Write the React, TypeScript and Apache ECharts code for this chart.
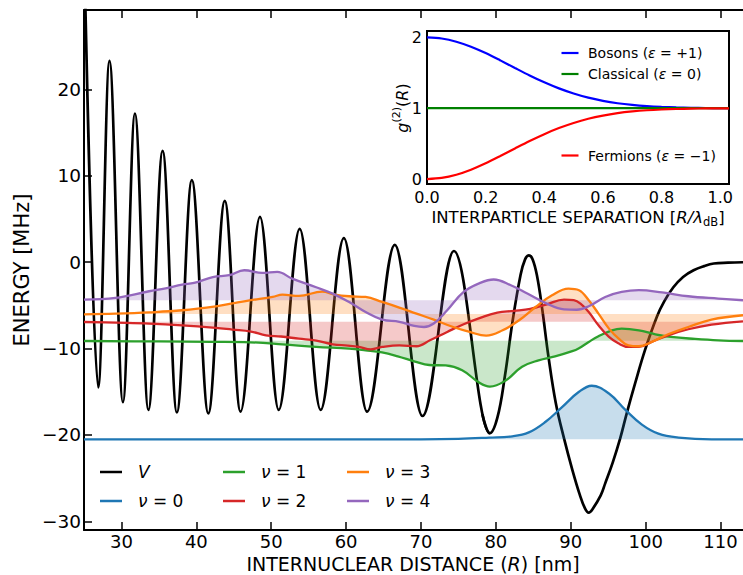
import React, { useEffect, useRef } from 'react';
import * as echarts from 'echarts';

const FONT = 'DejaVu Sans';

// ---------- main panel data ----------
// potential V: oscillating part (extrema; last value repeats the final trough)
const V_OSC_X = [25.1, 26.9, 28.4, 30.2, 31.8, 33.6, 35.5, 37.4, 39.4, 41.6, 43.8, 45.9, 48.5, 51.0, 53.8, 56.6, 59.7, 62.8, 66.5, 70.2, 74.4, 79.2, 79.24];
const V_OSC_Y = [33, -14.5, 23.3, -16.2, 17.2, -17.1, 12.9, -17.4, 9.5, -17.5, 7.1, -17.3, 5.25, -17.1, 3.86, -17.1, 2.8, -17.3, 2.0, -17.8, 1.3, -19.8, -19.8];
// potential V: last barrier, deep well and plateau
const V_TAIL_X = [78.2, 79.2, 80.2, 81.2, 82.2, 83.3, 83.9, 84.4, 84.9, 85.5, 86.2, 87.0, 88.0, 89.1, 90.2, 91.2, 91.9, 92.4, 92.9, 94.0, 94.6, 95.6, 96.6, 97.5, 98.6, 99.9, 101.5, 102.5, 103.7, 105.0, 106.4, 107.8, 109.1, 111.0, 113.0];
const V_TAIL_Y = [-17.6, -19.8, -18.0, -13.2, -7.0, -1.45, 0.33, 0.8, 0.35, -1.6, -5.5, -10.8, -16.3, -20.4, -24.0, -26.9, -28.5, -29.0, -28.6, -27.0, -25.6, -23.2, -20.4, -17.4, -14.0, -10.2, -6.3, -4.5, -2.9, -1.7, -0.93, -0.45, -0.15, -0.05, 0.0];

const BASELINES = [-20.5, -9.1, -6.9, -6.0, -4.4];

const NU0_X = [25, 60, 70, 75, 79.1, 82.2, 84.4, 86.6, 88.8, 91.1, 92.8, 95.1, 97.3, 99.5, 101.7, 104.4, 108.8, 113];
const NU0_Y = [-20.5, -20.5, -20.5, -20.45, -20.3, -20.15, -19.7, -18.5, -16.8, -15.0, -14.3, -15.2, -17.1, -18.8, -19.85, -20.3, -20.5, -20.5];

const NU1_X = [25, 35, 42, 47.1, 51.5, 56.0, 60.4, 62.6, 64.8, 66.9, 69.2, 71.1, 73.3, 75.5, 77.7, 79.2, 81.3, 83.5, 85.7, 87.9, 90.2, 91.1, 92.4, 93.7, 95.5, 96.8, 99.1, 101.3, 103.4, 106.6, 109.7, 113];
const NU1_Y = [-9.12, -9.17, -9.22, -9.27, -9.5, -9.8, -10.0, -10.2, -10.45, -10.9, -11.5, -11.9, -11.95, -12.5, -13.9, -14.4, -13.7, -12.1, -11.36, -10.9, -10.3, -9.95, -9.23, -8.57, -7.88, -7.69, -7.88, -8.34, -8.65, -8.88, -9.04, -9.12];

const NU2_X = [25, 29.2, 33.7, 38.1, 42.6, 44.8, 47.3, 49.3, 51.3, 53.7, 56.0, 58.2, 60.2, 61.7, 63.3, 64.8, 67.1, 69.4, 71.2, 73.5, 75.7, 78.0, 80.2, 82.4, 84.6, 86.8, 89.1, 90.4, 91.3, 92.4, 93.7, 95.1, 96.4, 97.7, 99.1, 100.8, 103.0, 105.7, 108.8, 113];
const NU2_Y = [-6.92, -7.0, -7.1, -7.3, -7.6, -7.8, -8.03, -8.46, -8.6, -8.85, -9.07, -9.5, -9.65, -9.8, -10.08, -9.81, -9.62, -9.73, -9.04, -8.07, -7.18, -6.41, -5.83, -5.64, -5.41, -4.87, -4.33, -4.4, -4.8, -5.76, -7.3, -8.65, -9.42, -9.81, -9.81, -9.23, -8.46, -7.76, -7.22, -6.84];

const NU3_X = [25, 29.2, 33.7, 38.1, 42.6, 45.2, 47.1, 50.2, 51.5, 53.7, 56.8, 58.5, 60.4, 62.6, 64.8, 67.1, 69.4, 71.7, 74.3, 76.5, 78.7, 80.9, 83.1, 85.3, 87.5, 89.7, 91.1, 92.4, 93.7, 95.1, 96.4, 97.7, 99.1, 100.8, 103.0, 105.7, 108.8, 113];
const NU3_Y = [-6.03, -5.95, -5.8, -5.56, -5.1, -4.71, -4.42, -4.02, -3.75, -3.9, -3.4, -3.75, -3.94, -4.02, -4.6, -5.25, -5.95, -6.64, -7.5, -8.07, -8.5, -7.88, -6.72, -5.18, -3.82, -3.05, -3.24, -4.4, -5.95, -7.69, -8.85, -9.62, -9.73, -9.23, -8.34, -7.5, -6.64, -6.14];

const NU4_X = [25, 29.2, 33.7, 35.9, 38.1, 39.7, 42.2, 44.4, 46.4, 48.8, 50.8, 52.8, 56.0, 58.2, 60.4, 62.6, 64.8, 67.1, 69.1, 70.4, 71.7, 73.5, 75.7, 78.0, 79.7, 82.0, 84.2, 86.8, 89.1, 90.8, 92.4, 94.6, 96.8, 99.1, 102.2, 105.7, 109.7, 113];
const NU4_Y = [-4.33, -4.13, -3.36, -3.02, -2.59, -2.4, -1.72, -1.5, -0.93, -1.24, -1.12, -1.9, -2.9, -3.63, -4.6, -5.76, -6.64, -6.9, -7.38, -7.5, -7.1, -5.56, -3.44, -2.36, -2.0, -2.67, -3.63, -4.79, -5.45, -5.5, -5.1, -4.02, -3.44, -3.24, -3.5, -3.94, -4.21, -4.4];

const NU_COLORS = ['#1f77b4', '#2ca02c', '#d62728', '#ff7f0e', '#9467bd'];

const MAIN_X_TICKS = [30, 40, 50, 60, 70, 80, 90, 100, 110];
const MAIN_Y_TICKS = [-30, -20, -10, 0, 10, 20];

// ---------- inset data ----------
const G_X = [0, 0.05, 0.1, 0.15, 0.2, 0.25, 0.3, 0.35, 0.4, 0.45, 0.5, 0.55, 0.6, 0.65, 0.7, 0.75, 0.8, 0.85, 0.9, 0.95, 1.0, 1.03];
const BOSONS = [2, 1.984, 1.939, 1.868, 1.778, 1.675, 1.568, 1.463, 1.366, 1.28, 1.208, 1.149, 1.104, 1.07, 1.046, 1.029, 1.018, 1.011, 1.006, 1.003, 1.002, 1.001];
const CLASSICAL = [1, 1, 1, 1, 1, 1, 1, 1, 1, 1, 1, 1, 1, 1, 1, 1, 1, 1, 1, 1, 1, 1];
const FERMIONS = [0, 0.016, 0.061, 0.132, 0.222, 0.325, 0.432, 0.537, 0.634, 0.72, 0.792, 0.851, 0.896, 0.93, 0.954, 0.971, 0.982, 0.989, 0.994, 0.997, 0.998, 0.999];
const INSET_X_TICKS = [0, 0.2, 0.4, 0.6, 0.8, 1.0];
const INSET_Y_TICKS = [0, 1, 2];

const zip = (xs: number[], ys: number[]) => xs.map((x, i) => [x, ys[i]]);
const minus = (v: number) => (v < 0 ? '\u2212' + Math.abs(v) : String(v));

function buildOption() {
  const tickStyle = { color: '#000', width: 1.5 };
  const lineBlack = { color: '#000', width: 2 };

  const xAxis: any[] = [
    {
      gridIndex: 0, type: 'value', min: 25, max: 113, position: 'bottom',
      axisLine: { show: true, onZero: false, lineStyle: lineBlack },
      axisTick: { show: true, inside: true, length: 8, lineStyle: tickStyle, customValues: MAIN_X_TICKS },
      axisLabel: { show: true, customValues: MAIN_X_TICKS, fontFamily: FONT, fontSize: 18, color: '#000', margin: 2 },
      splitLine: { show: false },
    },
    {
      gridIndex: 0, type: 'value', min: 25, max: 113, position: 'top',
      axisLine: { show: true, onZero: false, lineStyle: lineBlack },
      axisTick: { show: true, inside: true, length: 8, lineStyle: tickStyle, customValues: MAIN_X_TICKS },
      axisLabel: { show: false },
      splitLine: { show: false },
    },
    {
      gridIndex: 1, type: 'value', min: 0, max: 1.03, position: 'bottom',
      axisLine: { show: false, onZero: false },
      axisTick: { show: true, inside: true, length: 5, lineStyle: tickStyle, customValues: INSET_X_TICKS },
      axisLabel: { show: true, customValues: INSET_X_TICKS, formatter: (v: number) => v.toFixed(1), fontFamily: FONT, fontSize: 16, color: '#000', margin: 5 },
      splitLine: { show: false },
    },
    {
      gridIndex: 1, type: 'value', min: 0, max: 1.03, position: 'top',
      axisLine: { show: false, onZero: false },
      axisTick: { show: true, inside: true, length: 5, lineStyle: tickStyle, customValues: INSET_X_TICKS },
      axisLabel: { show: false },
      splitLine: { show: false },
    },
  ];

  const yAxis: any[] = [
    {
      gridIndex: 0, type: 'value', min: -31, max: 29.2, position: 'left',
      axisLine: { show: true, onZero: false, lineStyle: lineBlack },
      axisTick: { show: true, inside: true, length: 8, lineStyle: tickStyle, customValues: MAIN_Y_TICKS },
      axisLabel: { show: true, customValues: MAIN_Y_TICKS, formatter: minus, fontFamily: FONT, fontSize: 18.5, color: '#000', margin: 3 },
      splitLine: { show: false },
    },
    {
      gridIndex: 1, type: 'value', min: -0.07, max: 2.09, position: 'left',
      axisLine: { show: false, onZero: false },
      axisTick: { show: true, inside: true, length: 5, lineStyle: tickStyle, customValues: INSET_Y_TICKS },
      axisLabel: { show: true, customValues: INSET_Y_TICKS, fontFamily: FONT, fontSize: 16, color: '#000', margin: 5 },
      splitLine: { show: false },
    },
    {
      gridIndex: 1, type: 'value', min: -0.07, max: 2.09, position: 'right',
      axisLine: { show: false, onZero: false },
      axisTick: { show: true, inside: true, length: 5, lineStyle: tickStyle, customValues: INSET_Y_TICKS },
      axisLabel: { show: false },
      splitLine: { show: false },
    },
  ];

  const nuData = [zip(NU0_X, NU0_Y), zip(NU1_X, NU1_Y), zip(NU2_X, NU2_Y), zip(NU3_X, NU3_Y), zip(NU4_X, NU4_Y)];

  const series: any[] = [
    {
      name: 'V', type: 'line', xAxisIndex: 0, yAxisIndex: 0, data: zip(V_OSC_X, V_OSC_Y),
      showSymbol: false, smooth: 0.36, smoothMonotone: 'x', lineStyle: { color: '#000', width: 2.7 }, z: 1,
    },
    {
      name: 'V tail', type: 'line', xAxisIndex: 0, yAxisIndex: 0, data: zip(V_TAIL_X, V_TAIL_Y),
      showSymbol: false, smooth: 0.4, lineStyle: { color: '#000', width: 2.7 }, z: 1,
    },
    ...nuData.map((d, i) => ({
      name: 'nu' + i, type: 'line', xAxisIndex: 0, yAxisIndex: 0, data: d,
      showSymbol: false, smooth: 0.4,
      lineStyle: { color: NU_COLORS[i], width: 2.3 },
      areaStyle: { origin: BASELINES[i], color: NU_COLORS[i], opacity: 0.25 },
      z: 2,
    })),
    {
      name: 'Bosons', type: 'line', xAxisIndex: 2, yAxisIndex: 1, data: zip(G_X, BOSONS),
      showSymbol: false, smooth: 0.3, lineStyle: { color: '#0000ff', width: 2.2 }, z: 5,
    },
    {
      name: 'Classical', type: 'line', xAxisIndex: 2, yAxisIndex: 1, data: zip(G_X, CLASSICAL),
      showSymbol: false, lineStyle: { color: '#008000', width: 2.2 }, z: 5,
    },
    {
      name: 'Fermions', type: 'line', xAxisIndex: 2, yAxisIndex: 1, data: zip(G_X, FERMIONS),
      showSymbol: false, smooth: 0.3, lineStyle: { color: '#ff0000', width: 2.2 }, z: 5,
    },
  ];

  const legFs = 17;
  const legRich = {
    i: { fontFamily: FONT, fontSize: legFs, fontStyle: 'italic', fill: '#000' },
    n: { fontFamily: FONT, fontSize: legFs, fill: '#000' },
  };
  const legendItems = [
    { label: '{i|V}', color: '#000', lx: 100, ly: 472 },
    { label: '{i|\u03bd}{n| = 0}', color: NU_COLORS[0], lx: 100, ly: 501 },
    { label: '{i|\u03bd}{n| = 1}', color: NU_COLORS[1], lx: 223, ly: 472 },
    { label: '{i|\u03bd}{n| = 2}', color: NU_COLORS[2], lx: 223, ly: 501 },
    { label: '{i|\u03bd}{n| = 3}', color: NU_COLORS[3], lx: 347, ly: 472 },
    { label: '{i|\u03bd}{n| = 4}', color: NU_COLORS[4], lx: 347, ly: 501 },
  ];
  const insetFs = 14;
  const insetRich = {
    i: { fontFamily: FONT, fontSize: insetFs, fontStyle: 'italic', fill: '#000' },
    n: { fontFamily: FONT, fontSize: insetFs, fill: '#000' },
  };
  const insetLegend = [
    { label: '{n|Bosons (}{i|\u03b5}{n| = +1)}', color: '#0000ff', ly: 53 },
    { label: '{n|Classical (}{i|\u03b5}{n| = 0)}', color: '#008000', ly: 74 },
    { label: '{n|Fermions (}{i|\u03b5}{n| = \u22121)}', color: '#ff0000', ly: 155.5 },
  ];

  const elements: any[] = [];
  legendItems.forEach((it) => {
    elements.push({ type: 'line', shape: { x1: it.lx, y1: it.ly, x2: it.lx + 22, y2: it.ly }, style: { stroke: it.color, lineWidth: 2.5 }, z: 10 });
    elements.push({ type: 'text', x: it.lx + 38, y: it.ly, style: { text: it.label, rich: legRich, verticalAlign: 'middle', align: 'left', fill: '#000' }, z: 10 });
  });
  insetLegend.forEach((it) => {
    elements.push({ type: 'line', shape: { x1: 561.5, y1: it.ly, x2: 578.5, y2: it.ly }, style: { stroke: it.color, lineWidth: 2.2 }, z: 10 });
    elements.push({ type: 'text', x: 588, y: it.ly, style: { text: it.label, rich: insetRich, verticalAlign: 'middle', align: 'left', fill: '#000' }, z: 10 });
  });
  // axis titles
  elements.push({
    type: 'text', x: 413, y: 564,
    style: {
      text: '{n|INTERNUCLEAR DISTANCE (}{i|R}{n|) [nm]}',
      rich: {
        n: { fontFamily: FONT, fontSize: 19, fill: '#000' },
        i: { fontFamily: FONT, fontSize: 19, fontStyle: 'italic', fill: '#000' },
      },
      align: 'center', verticalAlign: 'middle', fill: '#000',
    },
    z: 10,
  });
  elements.push({
    type: 'text', x: 22, y: 270, rotation: Math.PI / 2,
    style: { text: 'ENERGY [MHz]', fontFamily: FONT, fontSize: 21, align: 'center', verticalAlign: 'middle', fill: '#000' },
    z: 10,
  });
  elements.push({
    type: 'text', x: 578, y: 217,
    style: {
      text: '{n|INTERPARTICLE SEPARATION [}{i|R/\u03bb}{s|dB}{n|]}',
      rich: {
        n: { fontFamily: FONT, fontSize: 16.5, fill: '#000', lineHeight: 22 },
        i: { fontFamily: FONT, fontSize: 16.5, fontStyle: 'italic', fill: '#000', lineHeight: 22 },
        s: { fontFamily: FONT, fontSize: 11.5, fill: '#000', verticalAlign: 'bottom', lineHeight: 22 },
      },
      align: 'center', verticalAlign: 'middle', fill: '#000',
    },
    z: 10,
  });
  elements.push({
    type: 'text', x: 402, y: 108, rotation: Math.PI / 2,
    style: {
      text: '{i|g}{s|(2)}{n|(}{i|R}{n|)}',
      rich: {
        n: { fontFamily: FONT, fontSize: 16, fill: '#000', lineHeight: 22 },
        i: { fontFamily: FONT, fontSize: 16, fontStyle: 'italic', fill: '#000', lineHeight: 22 },
        s: { fontFamily: FONT, fontSize: 11, fill: '#000', verticalAlign: 'top', lineHeight: 22 },
      },
      align: 'center', verticalAlign: 'middle', fill: '#000',
    },
    z: 10,
  });

  return {
    animation: false,
    backgroundColor: '#fff',
    grid: [
      { left: 84, top: 10, right: 0, bottom: 45, show: false },
      { left: 427, top: 31, width: 302, height: 153, show: true, backgroundColor: '#fff', borderColor: '#000', borderWidth: 2, z: 3 },
    ],
    xAxis,
    yAxis,
    series,
    graphic: { elements },
  };
}

export default function App() {
  const ref = useRef<HTMLDivElement>(null);
  useEffect(() => {
    if (!ref.current) return;
    const chart = echarts.init(ref.current, undefined, { renderer: 'svg' });
    chart.setOption(buildOption() as any);
    return () => chart.dispose();
  }, []);
  return <div ref={ref} style={{ position: 'absolute', left: 0, top: 0, width: 743, height: 575 }} />;
}
